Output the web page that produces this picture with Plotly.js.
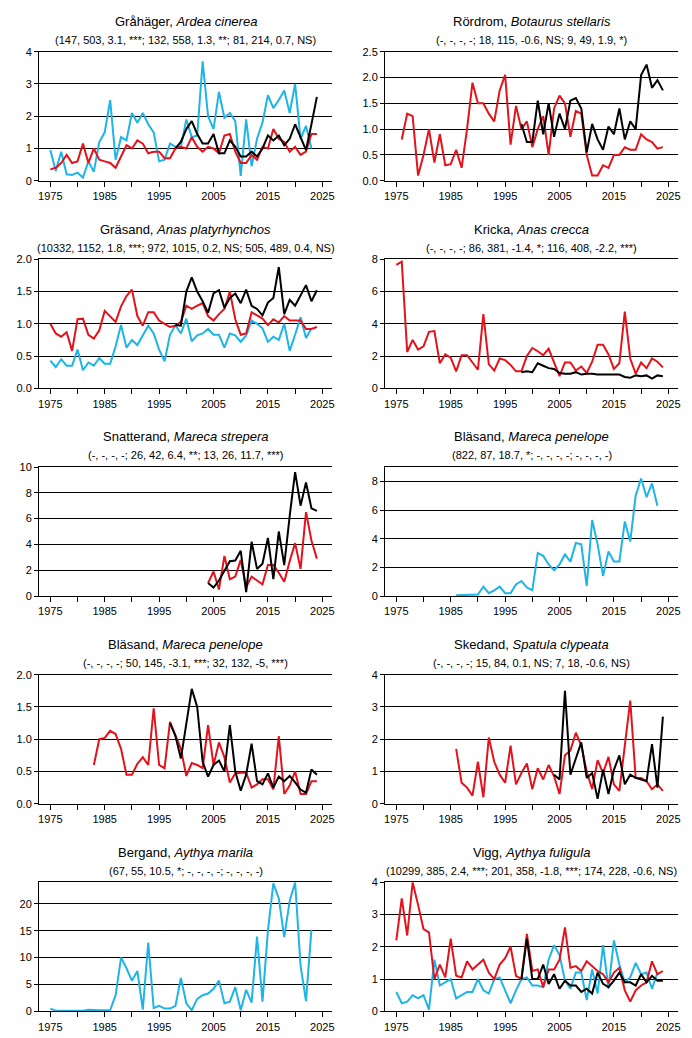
<!DOCTYPE html>
<html>
<head>
<meta charset="utf-8">
<script src="https://cdn.plot.ly/plotly-3.0.1.min.js"></script>
<style>
  body { margin: 0; background: #fff; }
  #chart { width: 692px; height: 1038px; }
</style>
</head>
<body>
<div id="chart"></div>
<script>
// years on the x axis
const YEARS = [1975, 1976, 1977, 1978, 1979, 1980, 1981, 1982, 1983, 1984,
               1985, 1986, 1987, 1988, 1989, 1990, 1991, 1992, 1993, 1994,
               1995, 1996, 1997, 1998, 1999, 2000, 2001, 2002, 2003, 2004,
               2005, 2006, 2007, 2008, 2009, 2010, 2011, 2012, 2013, 2014,
               2015, 2016, 2017, 2018, 2019, 2020, 2021, 2022, 2023, 2024];
const xTickVals = [1975, 1985, 1995, 2005, 2015, 2025];

// Gråhäger
const graCyan = [0.95, 0.3, 0.9, 0.2, 0.18, 0.25, 0.1, 0.6, 0.28, 1.2, 1.5, 2.5, 0.65, 1.35, 1.25, 2.1, 1.8, 2.1, 1.75, 1.5,
                 0.6, 0.65, 1.15, 1.05, 1.05, 1.9, 1.35, 1.4, 3.7, 2.0, 1.6, 2.75, 1.95, 2.1, 1.85, 0.15, 1.9, 0.45, 1.3, 1.8,
                 2.65, 2.25, 2.5, 2.8, 2.1, 3.0, 1.3, 1.7, 1.0];
const graRed = [0.35, 0.4, 0.55, 0.8, 0.55, 0.6, 1.15, 0.55, 1.0, 0.65, 0.6, 0.55, 0.4, 0.75, 1.1, 1.0, 1.25, 1.15, 0.85, 0.9,
                0.9, 0.7, 0.7, 1.0, 1.05, 1.0, 1.35, 1.05, 0.9, 1.05, 1.0, 0.85, 1.4, 1.45, 0.9, 0.55, 0.55, 0.8, 0.65, 1.05,
                1.0, 1.6, 1.3, 1.2, 0.9, 1.05, 0.8, 0.9, 1.45, 1.45];
const graBlack = [1.0, 1.2, 1.6, 1.85, 1.45, 1.15, 1.15, 1.45, 0.85, 0.85, 1.25, 1.05, 0.75, 0.75, 0.9, 0.75, 1.0, 1.4, 1.25, 1.4,
                  1.1, 1.3, 1.75, 1.35, 0.95, 1.75, 2.6];

// Rördrom
const rorRed = [0.8, 1.3, 1.25, 0.1, 0.5, 1.0, 0.35, 0.9, 0.3, 0.32, 0.6, 0.25, 1.0, 1.9, 1.5, 1.5, 1.3, 1.15, 1.75, 2.05,
                0.7, 1.45, 1.0, 1.15, 0.65, 1.0, 1.25, 0.5, 1.4, 1.65, 1.5, 0.85, 1.35, 1.3, 0.5, 0.1, 0.1, 0.3, 0.25, 0.5,
                0.5, 0.65, 0.6, 0.6, 0.9, 0.8, 0.75, 0.62, 0.65];
const rorBlack = [1.1, 0.75, 0.75, 1.55, 0.9, 1.5, 0.85, 1.3, 1.0, 1.55, 1.6, 1.4, 0.55, 1.1, 0.8, 0.6, 1.05, 0.9, 1.4, 0.8,
                  1.15, 1.0, 2.05, 2.25, 1.8, 1.95, 1.75];

// Gräsand
const grsCyan = [0.43, 0.33, 0.45, 0.35, 0.35, 0.6, 0.28, 0.4, 0.35, 0.47, 0.38, 0.38, 0.65, 0.98, 0.63, 0.75, 0.67, 0.82, 0.97, 0.85,
                 0.6, 0.42, 0.83, 0.98, 0.85, 1.08, 0.73, 0.82, 0.85, 0.92, 0.83, 0.83, 0.63, 0.85, 0.82, 0.72, 0.82, 1.05, 1.0, 0.93,
                 0.72, 0.8, 0.75, 1.0, 0.58, 0.83, 1.1, 0.78, 0.93];
const grsRed = [1.0, 0.85, 0.8, 0.87, 0.58, 1.07, 1.08, 0.83, 0.77, 0.9, 1.2, 1.12, 1.03, 1.27, 1.43, 1.53, 1.12, 0.97, 1.18, 1.18,
                1.05, 1.0, 0.95, 0.97, 1.03, 1.28, 1.23, 1.28, 1.32, 1.12, 1.05, 1.15, 1.23, 1.5, 1.07, 0.83, 0.85, 1.18, 1.13, 1.08,
                0.98, 1.07, 1.02, 1.12, 1.05, 1.05, 1.05, 0.92, 0.92, 0.95];
const grsBlack = [0.98, 0.97, 1.5, 1.72, 1.5, 1.35, 1.17, 1.47, 1.52, 1.25, 1.4, 1.47, 1.32, 1.53, 1.28, 1.23, 1.13, 1.33, 1.4, 1.88,
                  1.15, 1.37, 1.28, 1.43, 1.6, 1.35, 1.52];

// Kricka
const kriRed = [7.65, 7.85, 2.25, 3.0, 2.4, 2.6, 3.5, 3.55, 1.55, 2.1, 1.9, 1.05, 2.05, 2.05, 1.6, 1.15, 4.6, 1.5, 1.1, 1.85,
                1.75, 1.45, 1.05, 1.05, 2.0, 2.5, 2.3, 2.05, 2.45, 1.6, 0.75, 1.6, 1.6, 1.1, 1.35, 0.95, 1.65, 2.7, 2.7, 2.1,
                1.2, 1.55, 4.75, 1.85, 0.9, 1.6, 1.25, 1.85, 1.65, 1.3];
const kriBlack = [1.0, 1.05, 1.0, 1.55, 1.4, 1.25, 1.2, 0.95, 0.9, 0.9, 1.0, 0.85, 0.9, 0.9, 0.85, 0.85, 0.85, 0.85, 0.85, 0.7,
                  0.65, 0.8, 0.75, 0.8, 0.6, 0.8, 0.75];

// Snatterand
const snaRed = [1.0, 1.9, 0.5, 3.1, 1.3, 1.5, 2.8, 0.7, 1.5, 1.2, 0.9, 2.4, 2.4, 1.8, 1.1, 2.7, 4.1, 2.1, 6.5, 4.3, 2.9];
const snaBlack = [1.0, 0.65, 1.2, 2.0, 2.7, 2.75, 3.5, 0.3, 4.2, 2.1, 2.5, 4.5, 1.3, 5.0, 2.4, 6.2, 9.6, 7.0, 8.8, 6.8, 6.6];

// Bläsand (vinter)
const blaCyan = [0.05, 0.05, 0.05, 0.05, 0.1, 0.65, 0.2, 0.4, 0.65, 0.2, 0.2, 0.8, 1.05, 0.6, 0.4, 3.0, 2.8, 2.2, 1.8, 2.2,
                 2.9, 2.4, 3.7, 3.6, 0.7, 5.3, 3.6, 1.4, 3.1, 2.4, 2.4, 5.2, 3.8, 7.0, 8.2, 6.9, 7.85, 6.3];

// Bläsand
const bl2Red = [0.6, 1.0, 1.02, 1.13, 1.08, 0.85, 0.45, 0.45, 0.62, 0.72, 0.6, 1.48, 0.6, 0.55, 1.27, 1.05, 0.85, 0.43, 0.63, 0.6,
                0.55, 1.22, 0.6, 0.95, 0.72, 0.33, 0.47, 0.48, 0.48, 0.25, 0.3, 0.38, 0.38, 0.22, 1.05, 0.15, 0.28, 0.5, 0.15, 0.15,
                0.35, 0.35];
const bl2Black = [1.25, 1.05, 0.7, 1.25, 1.78, 1.5, 0.65, 0.42, 0.6, 0.67, 0.5, 1.22, 0.5, 0.2, 0.45, 0.93, 0.35, 0.3, 0.47, 0.25,
                  0.42, 0.35, 0.43, 0.33, 0.22, 0.17, 0.53, 0.45];

// Skedand
const skeRed = [1.7, 0.65, 0.5, 0.25, 1.3, 0.2, 2.05, 1.3, 0.9, 0.65, 1.8, 0.6, 0.95, 1.25, 0.45, 1.1, 0.75, 1.2, 0.85, 0.3,
                1.5, 1.65, 2.2, 1.8, 1.0, 0.45, 1.35, 0.95, 1.45, 0.6, 0.4, 1.8, 3.2, 0.8, 0.8, 0.7, 0.45, 0.6, 0.4];
const skeBlack = [0.9, 0.75, 3.5, 0.9, 1.4, 1.9, 0.8, 0.95, 0.15, 1.05, 0.3, 1.05, 1.5, 0.6, 0.9, 0.8, 0.75, 0.7, 1.85, 0.5, 2.7];

// Bergand
const berCyan = [0.5, 0.1, 0.1, 0.1, 0.1, 0.1, 0.1, 0.3, 0.2, 0.2, 0.2, 0.2, 3.0, 10.0, 8.0, 5.7, 7.5, 0.3, 12.8, 0.6,
                 1.0, 0.5, 0.5, 1.0, 6.2, 1.5, 0.2, 2.3, 3.0, 3.3, 4.2, 5.7, 1.5, 1.8, 4.5, 0.2, 4.0, 1.6, 13.9, 1.8,
                 15.0, 23.8, 21.0, 13.8, 20.5, 24.0, 8.5, 1.9, 15.2];

// Vigg
const vigCyan = [0.6, 0.25, 0.3, 0.5, 0.4, 0.5, 0.05, 1.6, 0.8, 0.9, 1.0, 0.4, 0.5, 0.6, 0.6, 1.0, 0.65, 0.55, 1.0, 1.05,
                 0.65, 0.25, 0.65, 1.0, 1.05, 0.8, 0.8, 0.75, 1.6, 2.05, 1.75, 0.95, 0.7, 1.2, 1.2, 0.35, 1.3, 0.55, 2.05, 0.7,
                 2.2, 1.45, 0.9, 1.05, 1.5, 1.15, 1.2, 0.7, 1.2];
const vigRed = [2.2, 3.5, 2.35, 4.0, 3.3, 2.55, 2.45, 1.0, 1.45, 1.05, 2.25, 1.1, 1.05, 1.55, 1.3, 1.45, 1.6, 1.2, 1.0, 1.45,
                1.65, 2.0, 1.1, 1.0, 2.4, 1.25, 1.3, 0.75, 1.3, 1.3, 1.6, 2.6, 1.35, 1.4, 1.25, 1.55, 1.4, 1.25, 1.15, 0.9,
                1.2, 1.35, 0.65, 0.3, 0.65, 0.8, 0.9, 1.55, 1.15, 1.25];
const vigBlack = [1.0, 2.25, 1.0, 1.0, 1.45, 0.85, 1.15, 0.7, 0.95, 0.8, 0.8, 0.6, 0.7, 0.55, 1.2, 0.85, 0.75, 0.95, 1.2, 0.9,
                  0.9, 0.8, 1.15, 0.9, 1.1, 0.95, 0.95];

const CYAN = "#1fb4e6";
const RED = "#e3121b";
const BLACK = "#000000";

// panel list, row by row (left, right)
const panels = [
    {name: "Gråhäger", latin: "Ardea cinerea", stats: "(147, 503, 3.1, ***; 132, 558, 1.3, **; 81, 214, 0.7, NS)",
     ymax: 4, dtick: 1, fmt: "",
     series: [[1975, graCyan, CYAN], [1975, graRed, RED], [1998, graBlack, BLACK]]},
    {name: "Rördrom", latin: "Botaurus stellaris", stats: "(-, -, -, -; 18, 115, -0.6, NS; 9, 49, 1.9, *)",
     ymax: 2.5, dtick: 0.5, fmt: ".1f",
     series: [[1976, rorRed, RED], [1998, rorBlack, BLACK]]},
    {name: "Gräsand", latin: "Anas platyrhynchos", stats: "(10332, 1152, 1.8, ***; 972, 1015, 0.2, NS; 505, 489, 0.4, NS)",
     ymax: 2, dtick: 0.5, fmt: ".1f",
     series: [[1975, grsCyan, CYAN], [1975, grsRed, RED], [1998, grsBlack, BLACK]]},
    {name: "Kricka", latin: "Anas crecca", stats: "(-, -, -, -; 86, 381, -1.4, *; 116, 408, -2.2, ***)",
     ymax: 8, dtick: 2, fmt: "",
     series: [[1975, kriRed, RED], [1998, kriBlack, BLACK]]},
    {name: "Snatterand", latin: "Mareca strepera", stats: "(-, -, -, -; 26, 42, 6.4, **; 13, 26, 11.7, ***)",
     ymax: 10, dtick: 2, fmt: "",
     series: [[2004, snaRed, RED], [2004, snaBlack, BLACK]]},
    {name: "Bläsand", latin: "Mareca penelope", stats: "(822, 87, 18.7, *; -, -, -, -; -, -, -, -)",
     ymax: 9, dtick: 2, fmt: "",
     series: [[1986, blaCyan, CYAN]]},
    {name: "Bläsand", latin: "Mareca penelope", stats: "(-, -, -, -; 50, 145, -3.1, ***; 32, 132, -5, ***)",
     ymax: 2, dtick: 0.5, fmt: ".1f",
     series: [[1983, bl2Red, RED], [1997, bl2Black, BLACK]]},
    {name: "Skedand", latin: "Spatula clypeata", stats: "(-, -, -, -; 15, 84, 0.1, NS; 7, 18, -0.6, NS)",
     ymax: 4, dtick: 1, fmt: "",
     series: [[1986, skeRed, RED], [2004, skeBlack, BLACK]]},
    {name: "Bergand", latin: "Aythya marila", stats: "(67, 55, 10.5, *; -, -, -, -; -, -, -, -)",
     ymax: 24, dtick: 5, fmt: "",
     series: [[1975, berCyan, CYAN]]},
    {name: "Vigg", latin: "Aythya fuligula", stats: "(10299, 385, 2.4, ***; 201, 358, -1.8, ***; 174, 228, -0.6, NS)",
     ymax: 4, dtick: 1, fmt: "",
     series: [[1975, vigCyan, CYAN], [1975, vigRed, RED], [1998, vigBlack, BLACK]]}
];

// page geometry in pixels
const W = 692, H = 1038;
const colLeft = [39, 385];
const plotW = 293, plotH = 129;
const rowTop = [51.7, 259.3, 467, 674.7, 882.3];
const FONT = "Liberation Sans, Arial, sans-serif";

function yearsFrom(start, vals) {
    const i = YEARS.indexOf(start);
    return YEARS.slice(i, i + vals.length);
}

let data = [];
let layout = {
    width: W,
    height: H,
    margin: {l: 0, r: 0, t: 0, b: 0},
    paper_bgcolor: "#fff",
    plot_bgcolor: "#fff",
    showlegend: false,
    font: {family: FONT, size: 11, color: "#000"},
    annotations: []
};

panels.forEach((p, k) => {
    const n = k + 1;
    const row = Math.floor(k / 2), col = k % 2;
    const left = colLeft[col], top = rowTop[row];
    const xa = "xaxis" + (n === 1 ? "" : n), ya = "yaxis" + (n === 1 ? "" : n);
    const xr = "x" + (n === 1 ? "" : n), yr = "y" + (n === 1 ? "" : n);

    p.series.forEach(s => {
        data.push({
            x: yearsFrom(s[0], s[1]),
            y: s[1],
            xaxis: xr,
            yaxis: yr,
            type: "scatter",
            mode: "lines",
            line: {color: s[2], width: 2},
            hoverinfo: "skip"
        });
    });

    layout[xa] = {
        domain: [left / W, (left + plotW) / W],
        anchor: yr,
        range: [1972.92, 2026.78],
        tickvals: xTickVals,
        ticks: "outside",
        ticklen: 5,
        tickwidth: 1,
        tickcolor: "#000",
        minor: {tickvals: [1980, 1990, 2000, 2010, 2020], ticks: "outside", ticklen: 5, tickcolor: "#000", showgrid: false},
        showgrid: false,
        zeroline: false,
        showline: true,
        linecolor: "#000",
        linewidth: 1,
        mirror: true,
        tickfont: {family: FONT, size: 11, color: "#000"},
        fixedrange: true
    };
    layout[ya] = {
        domain: [1 - (top + plotH) / H, 1 - top / H],
        anchor: xr,
        range: [0, p.ymax],
        dtick: p.dtick,
        tick0: 0,
        tickformat: p.fmt,
        ticks: "outside",
        ticklen: 4,
        tickcolor: "#000",
        showgrid: true,
        gridcolor: "#000",
        gridwidth: 1,
        zeroline: false,
        showline: true,
        linecolor: "#000",
        linewidth: 1,
        tickfont: {family: FONT, size: 11, color: "#000"},
        fixedrange: true
    };

    const cx = (left + plotW / 2) / W;
    layout.annotations.push({
        text: p.name + ", <i>" + p.latin + "</i>",
        xref: "paper", yref: "paper",
        x: cx, y: 1 - (top - 30) / H,
        xanchor: "center", yanchor: "middle",
        showarrow: false,
        font: {family: FONT, size: 13, color: "#000"}
    });
    layout.annotations.push({
        text: p.stats,
        xref: "paper", yref: "paper",
        x: cx, y: 1 - (top - 11.5) / H,
        xanchor: "center", yanchor: "middle",
        showarrow: false,
        font: {family: FONT, size: 11, color: "#000"}
    });
});

Plotly.newPlot("chart", data, layout, {displayModeBar: false, staticPlot: true});
</script>
</body>
</html>
